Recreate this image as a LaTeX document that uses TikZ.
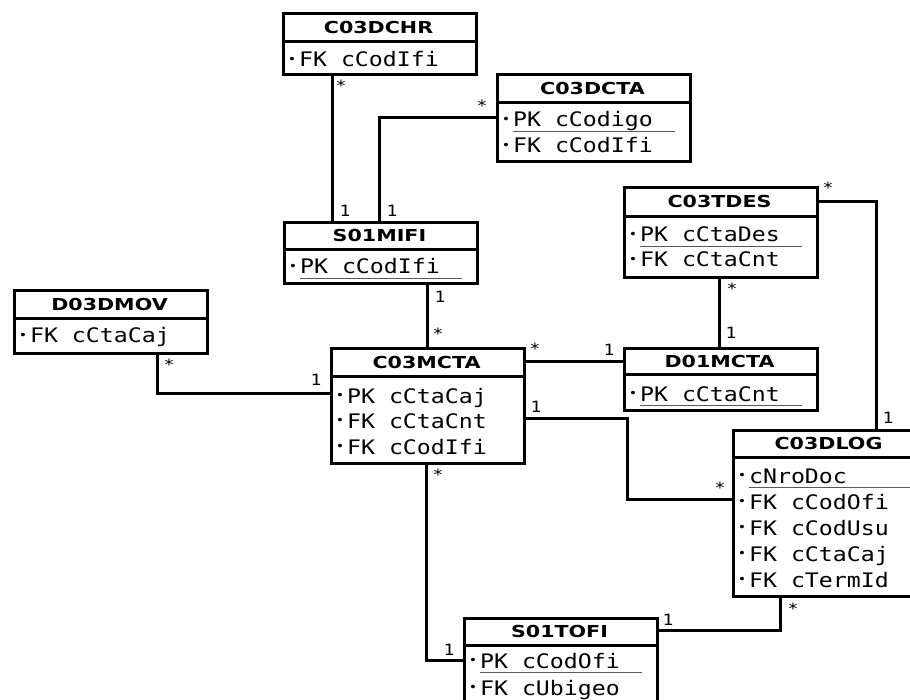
\documentclass[tikz,border=0pt]{standalone}
\usepackage{fontspec}
\newfontfamily\monofnt[FakeStretch=1.16]{DejaVu Sans Mono}
\newfontfamily\hdrfnt[FakeStretch=1.25]{DejaVu Sans Bold}
\tikzset{
  ebox/.style={draw=black, line width=3pt, minimum width=193pt, inner sep=0pt, fill=white},
  eline/.style={draw=black, line width=3pt},
  etitle/.style={inner sep=0pt, font=\hdrfnt\fontsize{16.5}{18}\selectfont},
  efield/.style={inner sep=0pt, font=\monofnt\fontsize{20}{24}\selectfont},
  uline/.style={draw=black!65, line width=1.6pt},
  conn/.style={draw=black, line width=3pt, line join=miter},
  mult/.style={inner sep=0pt, font=\monofnt\fontsize{15.5}{16}\selectfont}
}
\newcommand{\fbul}{\makebox[13.9pt][c]{\raisebox{3.5pt}{\fontsize{12}{12}\selectfont •}}}
\newcommand{\entity}[6]{%
  \node[ebox, minimum height={#5-#3}, anchor=north west] (#1) at (#2,#3) {};
  \draw[eline] (#2,#4) -- ++(193,0);
  \node[etitle] (#1t) at ({#2+96.5},{(#3+#4)/2}) {#6};
}
\newcommand{\field}[4]{%
  \node[efield, anchor=base west] (#1) at ({#2+3},#3) {\fbul#4};
}
\newcommand{\ufield}[4]{%
  \node[efield, anchor=base west] (#1) at ({#2+3},#3) {\fbul#4};
  \draw[uline] ({#2+17},{#3+4.5}) -- ({#2+179},{#3+4.5});
}
\begin{document}
\begin{tikzpicture}[x=1pt,y=-1pt]
\useasboundingbox (0,0) rectangle (910,700);
\clip (0,0) rectangle (910,700);
\fill[white] (0,0) rectangle (910,700);

\coordinate (k1) at (332,0);
\coordinate (k2) at (379,118);
\coordinate (k3) at (427,0);
\coordinate (k4) at (0,362);
\coordinate (k5) at (719,0);
\coordinate (k6) at (876,202);
\coordinate (k7) at (157,393);
\coordinate (k8a) at (627,418);
\coordinate (k8b) at (627,499);
\coordinate (k9) at (426,660);
\coordinate (k10) at (780,630);

% entities
\entity{chr}{282}{12}{42}{73}{C03DCHR}
\field{chr1}{282}{67}{FK cCodIfi}

\entity{dcta}{496}{73}{103}{160}{C03DCTA}
\ufield{dcta1}{496}{127}{PK cCodigo}
\field{dcta2}{496}{153}{FK cCodIfi}

\entity{mifi}{283}{221}{250}{282}{S01MIFI}
\ufield{mifi1}{283}{274}{PK cCodIfi}

\entity{tdes}{623}{186}{217}{276}{C03TDES}
\ufield{tdes1}{623}{242}{PK cCtaDes}
\field{tdes2}{623}{267}{FK cCtaCnt}

\entity{dmov}{13}{289}{319}{352}{D03DMOV}
\field{dmov1}{13}{343}{FK cCtaCaj}

\entity{mcta}{330}{347}{377}{462}{C03MCTA}
\field{mcta1}{330}{403}{PK cCtaCaj}
\field{mcta2}{330}{428}{FK cCtaCnt}
\field{mcta3}{330}{454}{FK cCodIfi}

\entity{dmcta}{623}{347}{375}{409}{D01MCTA}
\ufield{dmcta1}{623}{401}{PK cCtaCnt}

\entity{dlog}{732}{429}{457}{595}{C03DLOG}
\ufield{dlog1}{732}{483}{cNroDoc}
\field{dlog2}{732}{509}{FK cCodOfi}
\field{dlog3}{732}{535}{FK cCodUsu}
\field{dlog4}{732}{561}{FK cCtaCaj}
\field{dlog5}{732}{587}{FK cTermId}

\entity{tofi}{463}{617}{645}{725}{S01TOFI}
\ufield{tofi1}{463}{668}{PK cCodOfi}
\field{tofi2}{463}{695}{FK cUbigeo}

% connectors
\draw[conn] (chr.south -| k1) -- (mifi.north -| k1);
\draw[conn] (dcta.west |- k2) -| (mifi.north -| k2);
\draw[conn] (mifi.south -| k3) -- (mcta.north -| k3);
\draw[conn] (mcta.east |- k4) -- (dmcta.west |- k4);
\draw[conn] (tdes.south -| k5) -- (dmcta.north -| k5);
\draw[conn] (tdes.east |- k6) -| (dlog.north -| k6);
\draw[conn] (dmov.south -| k7) |- (mcta.west |- k7);
\draw[conn] (mcta.east |- k8a) -- (k8a) -- (k8b) -- (dlog.west |- k8b);
\draw[conn] (mcta.south -| k9) |- (tofi.west |- k9);
\draw[conn] (dlog.south -| k10) |- (tofi.east |- k10);

% multiplicities
\node[mult] (m1a) at (341,86) {*};
\node[mult] (m1b) at (345,211) {1};
\node[mult] (m2a) at (482,106) {*};
\node[mult] (m2b) at (392,211) {1};
\node[mult] (m3a) at (440,297) {1};
\node[mult] (m3b) at (438,334) {*};
\node[mult] (m4a) at (535,349) {*};
\node[mult] (m4b) at (609,350) {1};
\node[mult] (m5a) at (732,289) {*};
\node[mult] (m5b) at (731,333) {1};
\node[mult] (m6a) at (828,188) {*};
\node[mult] (m6b) at (888,418) {1};
\node[mult] (m7a) at (169,365) {*};
\node[mult] (m7b) at (316,380) {1};
\node[mult] (m8a) at (536,407) {1};
\node[mult] (m8b) at (720,488) {*};
\node[mult] (m9a) at (438,475) {*};
\node[mult] (m9b) at (449,650) {1};
\node[mult] (m10a) at (793,609) {*};
\node[mult] (m10b) at (668,620) {1};
\end{tikzpicture}
\end{document}
